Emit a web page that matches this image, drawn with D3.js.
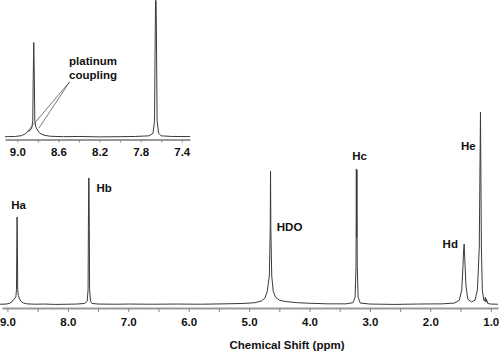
<!DOCTYPE html>
<html>
<head>
<meta charset="utf-8">
<script src="https://cdn.jsdelivr.net/npm/d3@7"></script>
<style>
  body { margin: 0; background: #fff; }
  svg { display: block; font-family: "Liberation Sans", Arial, sans-serif; }
  .lbl { font-weight: bold; font-size: 11.5px; fill: #111; }
</style>
</head>
<body>
<div id="chart"></div>
<script>
// spectrum: [ppm, intensity], He peak = 100
const spectrum = [
  [9.15, 0.4], [9.10, 0.4], [9.02, 0.5], [8.96, 0.9], [8.92, 1.8], [8.90, 2.9],
  [8.88, 3.2], [8.86, 4.5], [8.85, 8], [8.845, 30], [8.84, 45.6], [8.835, 30],
  [8.83, 8], [8.82, 5], [8.80, 3.2], [8.78, 2], [8.74, 1.1], [8.68, 0.6],
  [8.55, 0.4], [8.40, 0.5], [8.20, 0.3], [8.00, 0.4], [7.85, 0.5], [7.72, 0.8],
  [7.68, 2], [7.665, 8], [7.66, 40], [7.655, 65.8], [7.65, 65.8], [7.645, 40],
  [7.64, 8], [7.625, 2], [7.60, 0.8], [7.50, 0.5], [7.20, 0.4], [7.00, 0.5],
  [6.60, 0.4], [6.20, 0.5], [5.80, 0.4], [5.40, 0.6], [5.10, 0.8], [4.90, 1.2],
  [4.80, 2], [4.74, 3.5], [4.70, 7], [4.665, 15], [4.65, 40], [4.645, 69.4],
  [4.64, 40], [4.625, 15], [4.60, 7], [4.56, 4], [4.50, 2.5], [4.40, 1.8],
  [4.20, 1.2], [4.00, 0.9], [3.70, 0.6], [3.40, 0.6], [3.28, 1.2], [3.245, 4],
  [3.23, 20], [3.225, 70.5], [3.22, 35], [3.215, 70], [3.21, 20], [3.195, 4],
  [3.16, 1], [3.00, 0.5], [2.60, 0.3], [2.20, 0.5], [1.80, 0.6], [1.60, 1],
  [1.52, 2.5], [1.48, 8], [1.46, 20], [1.45, 28], [1.44, 31.6], [1.43, 24],
  [1.41, 10], [1.38, 3], [1.32, 1.6], [1.26, 2.5], [1.22, 8], [1.19, 30],
  [1.17, 100], [1.155, 30], [1.14, 8], [1.115, 2.5], [1.10, 2], [1.09, 4],
  [1.08, 1.5], [1.07, 3], [1.05, 0.8], [1.00, 0.5], [0.88, 0.4]
];

const mainTicks = [9.0, 8.5, 8.0, 7.5, 7.0, 6.5, 6.0, 5.5, 5.0, 4.5, 4.0, 3.5, 3.0, 2.5, 2.0, 1.5, 1.0];
const mainTickLabels = [9.0, 8.0, 7.0, 6.0, 5.0, 4.0, 3.0, 2.0, 1.0];
const insetTicks = [9.0, 8.8, 8.6, 8.4, 8.2, 8.0, 7.8, 7.6, 7.4];
const insetTickLabels = [9.0, 8.6, 8.2, 7.8, 7.4];

// peak labels: text, ppm, intensity of the label baseline
const peakNames = ["Ha", "Hb", "HDO", "Hc", "Hd", "He"];
const peakPpm = [8.815, 7.40, 4.33, 3.17, 1.67, 1.37];
const peakLevel = [49.7, 58.8, 38.3, 74.9, 29.7, 80.3];

// satellites the annotation points at
const satellitePpm = [8.90, 8.79];
const satelliteLevel = [3, 4.5];

const w = 500, h = 354;

const svg = d3.select("#chart").append("svg")
  .attr("width", w).attr("height", h);

// main plot
const x = d3.scaleLinear().domain([9.09, 0.88]).range([2, 498]);
const y = d3.scaleLinear().domain([0, 100]).range([305, 112]);

const line = d3.line().x(d => x(d[0])).y(d => y(d[1]));

svg.append("path")
  .datum(spectrum)
  .attr("d", line)
  .attr("fill", "none")
  .attr("stroke", "#3a3a3a")
  .attr("stroke-width", 1);

const xAxis = svg.append("g")
  .attr("transform", "translate(0,308)")
  .call(d3.axisBottom(x)
    .tickValues(mainTicks)
    .tickSize(4)
    .tickSizeOuter(0)
    .tickFormat(d => mainTickLabels.includes(d) ? d3.format(".1f")(d) : ""));

function styleAxis(g, labelY) {
  g.select(".domain").attr("stroke", "#999").attr("stroke-width", 2);
  g.selectAll(".tick line").attr("stroke", "#888");
  g.selectAll(".tick text")
    .attr("y", labelY).attr("dy", null)
    .attr("font-family", "Liberation Sans, Arial, sans-serif")
    .attr("font-weight", "bold")
    .attr("font-size", 11.5)
    .attr("fill", "#111");
}
styleAxis(xAxis, 18);

svg.append("text")
  .attr("class", "lbl")
  .attr("x", 287).attr("y", 349)
  .attr("text-anchor", "middle")
  .text("Chemical Shift (ppm)");

svg.selectAll(".peakText")
  .data(peakNames)
  .enter()
  .append("text")
  .attr("class", "lbl")
  .attr("text-anchor", "middle")
  .attr("x", (d, i) => x(peakPpm[i]))
  .attr("y", (d, i) => y(peakLevel[i]))
  .text(d => d);

// inset
const xi = d3.scaleLinear().domain([9.12, 7.32]).range([5, 190]);
const yi = d3.scaleLinear().domain([0, 66]).range([137.5, 0]);

svg.append("clipPath").attr("id", "insetClip")
  .append("rect").attr("x", 5).attr("y", 0).attr("width", 185).attr("height", 140);

const lineInset = d3.line().x(d => xi(d[0])).y(d => yi(d[1]));

svg.append("path")
  .datum(spectrum.filter(d => d[0] <= 9.2 && d[0] >= 7.2))
  .attr("d", lineInset)
  .attr("clip-path", "url(#insetClip)")
  .attr("fill", "none")
  .attr("stroke", "#3a3a3a")
  .attr("stroke-width", 1);

const xAxisInset = svg.append("g")
  .attr("transform", "translate(0,139.5)")
  .call(d3.axisBottom(xi)
    .tickValues(insetTicks)
    .tickSize(3)
    .tickSizeOuter(0)
    .tickFormat(d => insetTickLabels.includes(d) ? d3.format(".1f")(d) : ""));
styleAxis(xAxisInset, 16.5);

svg.append("text").attr("class", "lbl")
  .attr("x", 93).attr("y", 65).attr("text-anchor", "middle").text("platinum");
svg.append("text").attr("class", "lbl")
  .attr("x", 93).attr("y", 79).attr("text-anchor", "middle").text("coupling");

svg.selectAll(".pointer")
  .data(satellitePpm)
  .enter()
  .append("line")
  .attr("x1", 69.5).attr("y1", 82)
  .attr("x2", d => xi(d))
  .attr("y2", (d, i) => yi(satelliteLevel[i]))
  .attr("stroke", "#555")
  .attr("stroke-width", 0.8);
</script>
</body>
</html>
